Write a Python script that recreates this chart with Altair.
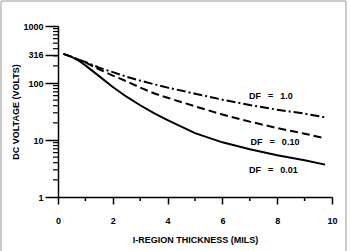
import altair as alt
import pandas as pd

# Data
thickness = [0.2, 0.5, 0.8, 1.0, 1.5, 2.0, 2.5, 3.0, 3.5, 4.0, 5.0, 6.0, 7.0, 8.0, 9.0, 9.75]
v_df001 = [324, 288, 240, 204, 132, 85, 57.5, 40.7, 29.5, 22.4, 13.2, 9.1, 6.9, 5.4, 4.4, 3.7]
v_df010 = [324, 288, 251, 229, 174, 135, 107, 83, 66, 55, 39, 28, 21, 16.2, 12.9, 10.7]
v_df100 = [324, 288, 251, 234, 186, 155, 129, 110, 95, 83, 65, 51, 41, 34, 29, 25]

label_text = ["DF\u2002 =\u2002 1.0", "DF\u2002 =\u2002 0.10", "DF\u2002 =\u2002 0.01"]
label_x = [7.77, 7.92, 7.86]
label_y = [59, 9.4, 2.92]

y_major = [1, 10, 100, 316, 1000]
y_minor = [2, 3, 4, 5, 6, 7, 8, 9, 20, 30, 40, 50, 60, 70, 80, 90, 200, 300, 400, 500, 600, 700, 800, 900]
x_major = [0, 2, 4, 6, 8, 10]
x_minor = [1, 3, 5, 7, 9]

FONT = "Liberation Sans"
W, H = 274, 171

series = {"0.01": v_df001, "0.10": v_df010, "1.0": v_df100}
rows = []
for name, vals in series.items():
    for x, v in zip(thickness, vals):
        rows.append({"df": name, "x": x, "v": v})
df = pd.DataFrame(rows)
labels = pd.DataFrame({"text": label_text, "x": label_x, "v": label_y})

xscale = alt.Scale(domain=[0, 10], nice=False)
yscale = alt.Scale(type="log", domain=[1, 1000], nice=False)

x_axis = alt.Axis(values=x_major, format="d", tickSize=7, tickColor="black", domainColor="black",
                  labelFont=FONT, labelFontSize=9, labelFontWeight="bold", labelColor="black",
                  labelPadding=12, title="I-REGION THICKNESS (MILS)", titleFont=FONT,
                  titleFontSize=9, titleFontWeight="bold", titleColor="black", titlePadding=10,
                  grid=False, labelFlush=False, domainWidth=1.5, tickWidth=1.5)
y_axis = alt.Axis(values=y_major, format="d", tickSize=13, tickColor="black", domainColor="black",
                  labelFont=FONT, labelFontSize=9, labelFontWeight="bold", labelColor="black",
                  labelPadding=2, title="DC VOLTAGE (VOLTS)", titleFont=FONT,
                  titleFontSize=9, titleFontWeight="bold", titleColor="black", titlePadding=2,
                  grid=False, domainWidth=1.5, tickWidth=1.5)

xe = alt.X("x:Q", scale=xscale, axis=x_axis)
ye = alt.Y("v:Q", scale=yscale, axis=y_axis)

base = alt.Chart(df)
solid = base.transform_filter(alt.datum.df == "0.01").mark_line(color="black", strokeWidth=2).encode(x=xe, y=ye)
dashed = base.transform_filter(alt.datum.df == "0.10").mark_line(color="black", strokeWidth=2, strokeDash=[8, 4]).encode(x=xe, y=ye)
dashdot = base.transform_filter(alt.datum.df == "1.0").mark_line(color="black", strokeWidth=2, strokeDash=[9, 3, 2, 3]).encode(x=xe, y=ye)
text = alt.Chart(labels).mark_text(font=FONT, fontSize=9, fontWeight="bold", color="black").encode(
    x=xe, y=ye, text="text:N")

# minor ticks, positioned by the scales
ytick = alt.Chart(pd.DataFrame({"v": y_minor})).mark_rule(color="black", strokeWidth=1.2, clip=False).encode(
    y=alt.Y("v:Q", scale=yscale), x=alt.value(-5), x2=alt.value(0))
xtick = alt.Chart(pd.DataFrame({"x": x_minor})).mark_rule(color="black", strokeWidth=1.5, clip=False).encode(
    x=alt.X("x:Q", scale=xscale), y=alt.value(H), y2=alt.value(H + 4))

frame = alt.Chart(pd.DataFrame({"a": [0]})).mark_rect(fill="transparent", stroke="#999999", strokeWidth=1, clip=False).encode(
    x=alt.value(-57), x2=alt.value(288), y=alt.value(-25), y2=alt.value(240))

chart = alt.layer(solid, dashed, dashdot, text, ytick, xtick, frame).properties(
    width=W, height=H,
    autosize=alt.AutoSizeParams(type="none"),
    padding={"left": 58, "top": 26, "right": 19, "bottom": 54},
    background="white",
).configure_view(stroke=None)

chart.save("out.html", embed_options={"renderer": "svg", "actions": False})
